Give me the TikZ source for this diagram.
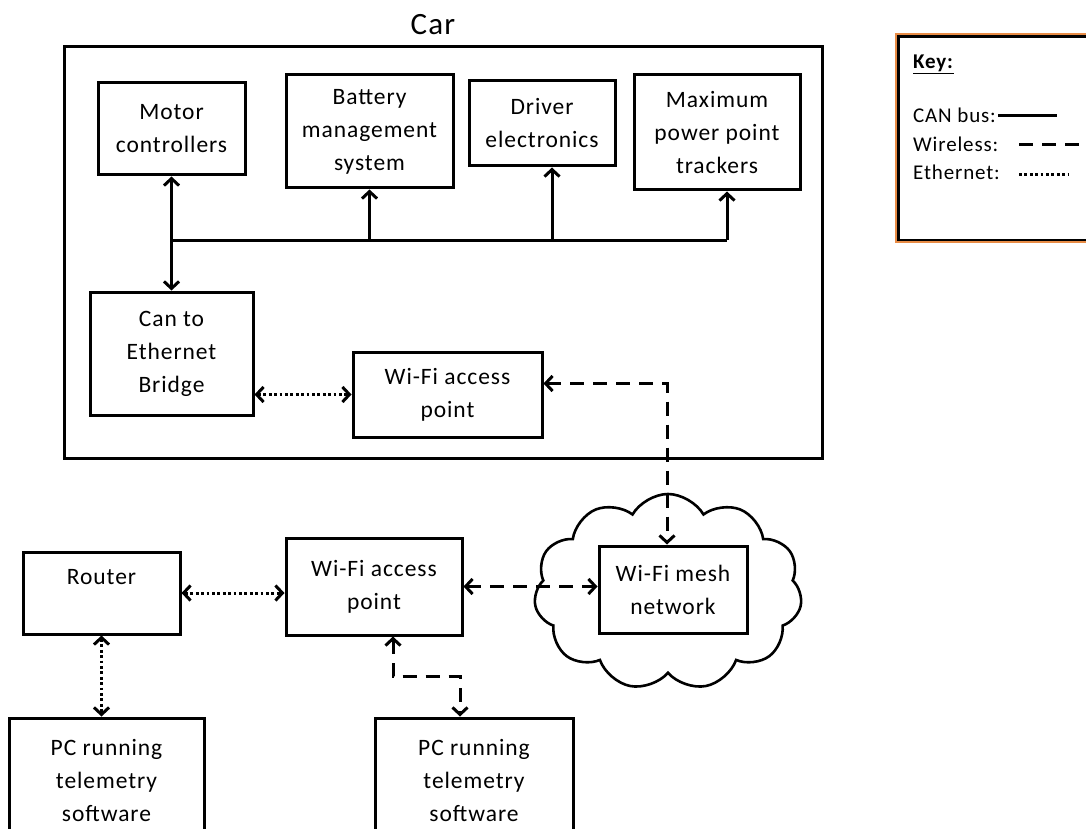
\documentclass[tikz,border=0pt]{standalone}
\usepackage{fontspec}
\setmainfont{Carlito}[LetterSpace=4]
\usetikzlibrary{arrows.meta,shapes.symbols}

\begin{document}
\begin{tikzpicture}[x=1pt,y=-1pt,
  >={Straight Barb[length=7pt,width=15pt]},
  box/.style={draw, line width=3pt, fill=white, align=center, inner sep=0pt,
    font=\fontsize{23.5}{33}\selectfont},
  link/.style={line width=3pt},
  can/.style={link},
  wl/.style={link, dash pattern=on 14pt off 9pt},
  eth/.style={link, dash pattern=on 2.8pt off 2.6pt},
  keytext/.style={anchor=base west, inner sep=0pt, font=\fontsize{21}{24}\selectfont}
]
\clip (0,0) rectangle (1086,829);
\fill[white] (0,0) rectangle (1086,829);

% enclosure of the on-board units
\node[draw, line width=3pt, minimum width=758, minimum height=411, inner sep=0pt] (car) at (443,252.5) {};
\node[font=\fontsize{31}{36}\selectfont, inner sep=0pt] (cartitle) at (433,25) {Car};

% on-board units
\node[box, minimum width=147, minimum height=92] (motor) at (171.5,129) {Motor\\controllers};
\node[box, minimum width=167, minimum height=113] (bms) at (369.5,131.5) {Battery\\management\\system};
\node[box, minimum width=146, minimum height=85] (driver) at (542,123.5) {Driver\\electronics};
\node[box, minimum width=166, minimum height=115] (mppt) at (717,132.5) {Maximum\\power point\\trackers};
\node[box, minimum width=163, minimum height=123] (bridge) at (171.5,353.5) {Can to\\Ethernet\\Bridge};
\node[box, minimum width=189, minimum height=85] (carap) at (447.5,394.5) {Wi-Fi access\\point};

% mesh network
\node[cloud, draw, line width=2.6pt, fill=white, cloud puffs=11, cloud puff arc=120,
      aspect=1.3, minimum width=268, minimum height=196] (cloud) at (668,592) {};
\node[box, minimum width=148, minimum height=87] (mesh) at (673,589.5) {Wi-Fi mesh\\network};

% ground station
\node[box, minimum width=157, minimum height=82] (router) at (101.5,593) {Router\\\mbox{}};
\node[box, minimum width=176, minimum height=97] (gap) at (374,586.5) {Wi-Fi access\\point};
\node[box, minimum width=195, minimum height=124] (pc1) at (106.5,780) {PC running\\telemetry\\software};
\node[box, minimum width=198, minimum height=124] (pc2) at (474,780) {PC running\\telemetry\\software};

% CAN bus
\coordinate (bus) at (motor.south |- 0,240);
\draw[can,<->] (motor.south) -- (bridge.north);
\draw[can] (bus) -- ([xshift=10pt]mppt.south |- bus);
\draw[can,->] (bms.south |- bus) -- (bms.south);
\draw[can,->] ([xshift=10pt]driver.south |- bus) -- ([xshift=10pt]driver.south);
\draw[can,->] ([xshift=10pt]mppt.south |- bus) -- ([xshift=10pt]mppt.south);

% Ethernet links
\draw[eth,<->] (bridge.east |- carap.west) -- (carap.west);
\draw[eth,<->] (router.east) -- (router.east -| gap.west);
\draw[eth,<->] (router.south) -- (router.south |- pc1.north);

% wireless links
\draw[wl,<->] ([yshift=11pt]carap.east) -| ([xshift=-6pt]mesh.north);
\draw[wl,<->] (gap.east) -- (gap.east -| mesh.west);
\draw[wl,<->] ([xshift=19pt]gap.south) |- ([xshift=-14pt,yshift=40pt]pc2.north) -- ([xshift=-14pt]pc2.north);

% key
\draw[line width=2pt, draw={rgb,255:red,232;green,140;blue,70}] (896,34) rectangle (1100,242);
\draw[line width=2.4pt] (898.5,36.5) rectangle (1100,240);
\node[keytext] (keyhead) at (913,69) {\underline{\textbf{Key:}}};
\node[keytext] (kcan) at (913,123) {CAN bus:};
\node[keytext] (kwl) at (913,152) {Wireless:};
\node[keytext] (keth) at (913,179) {Ethernet:};
\draw[line width=3pt] ([xshift=2pt]kcan.east |- 0,116) -- (1057,116);
\draw[line width=3pt, dash pattern=on 14pt off 9pt] (1019,145) -- (1100,145);
\draw[line width=3pt, dash pattern=on 2.8pt off 2.6pt] (1019,175) -- (1068,175);
\end{tikzpicture}
\end{document}
